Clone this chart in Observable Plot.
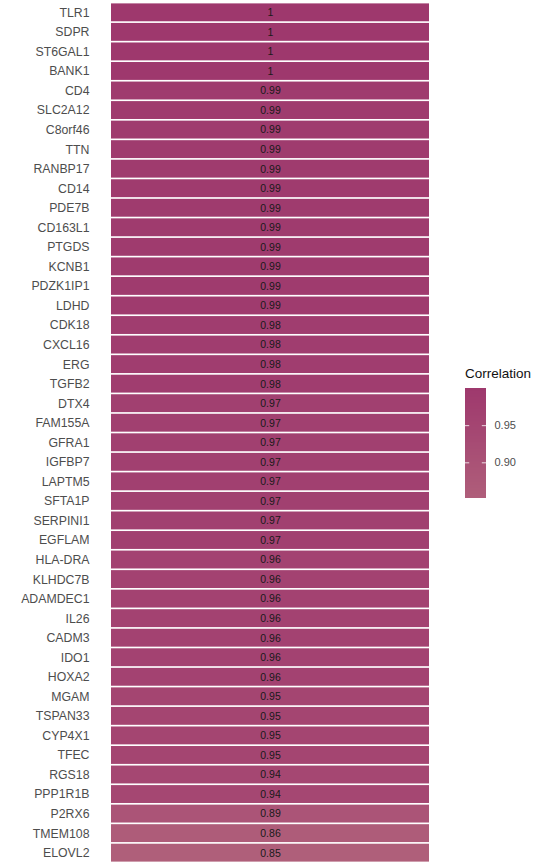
<!DOCTYPE html>
<html>
<head>
<meta charset="utf-8">
<script src="https://cdn.jsdelivr.net/npm/d3@7"></script>
<script src="https://cdn.jsdelivr.net/npm/@observablehq/plot@0.6"></script>
<style>
  html, body { margin: 0; padding: 0; background: #fff; }
  #wrap { position: relative; width: 537px; height: 864px; font-family: "Liberation Sans", Arial, Helvetica, sans-serif; }
  #legend { position: absolute; left: 460px; top: 360px; }
  #ltitle { position: absolute; left: 465px; top: 366px; font-size: 13.5px; color: #111; }
</style>
</head>
<body>
<div id="wrap">
  <div id="chart"></div>
  <div id="ltitle">Correlation</div>
  <div id="legend"></div>
</div>
<script>
const genes = ["TLR1","SDPR","ST6GAL1","BANK1","CD4","SLC2A12","C8orf46","TTN","RANBP17","CD14","PDE7B","CD163L1","PTGDS","KCNB1","PDZK1IP1","LDHD","CDK18","CXCL16","ERG","TGFB2","DTX4","FAM155A","GFRA1","IGFBP7","LAPTM5","SFTA1P","SERPINI1","EGFLAM","HLA-DRA","KLHDC7B","ADAMDEC1","IL26","CADM3","IDO1","HOXA2","MGAM","TSPAN33","CYP4X1","TFEC","RGS18","PPP1R1B","P2RX6","TMEM108","ELOVL2"];
const correlations = [1,1,1,1,0.99,0.99,0.99,0.99,0.99,0.99,0.99,0.99,0.99,0.99,0.99,0.99,0.98,0.98,0.98,0.98,0.97,0.97,0.97,0.97,0.97,0.97,0.97,0.97,0.96,0.96,0.96,0.96,0.96,0.96,0.96,0.95,0.95,0.95,0.95,0.94,0.94,0.89,0.86,0.85];
const legendTicks = [0.90, 0.95];

const table = genes.map((g, i) => ({gene: g, value: correlations[i], col: "Correlation"}));
const colorScale = {type: "linear", domain: [0.852, 1.0], range: ["#af5e7a", "#9e386d"]};
const font = "Liberation Sans, Arial, Helvetica, sans-serif";

const chart = Plot.plot({
  width: 537,
  height: 864,
  marginLeft: 111,
  marginRight: 108,
  marginTop: 3,
  marginBottom: 2,
  style: {fontFamily: font, background: "white"},
  x: {domain: ["Correlation"], axis: null, padding: 0, round: false},
  y: {domain: genes, paddingInner: 0.085, paddingOuter: 0.02, round: false, label: null},
  color: colorScale,
  marks: [
    Plot.cell(table, {x: "col", y: "gene", fill: "value"}),
    Plot.text(table, {x: "col", y: "gene", text: d => String(d.value), fill: "#1a1a1a", fontSize: 10.5}),
    Plot.axisY({tickSize: 0, tickPadding: 22, fontSize: 12.3, color: "#4d4d4d", label: null})
  ]
});
document.getElementById("chart").appendChild(chart);

const ramp = d3.range(0.852, 1.0, 0.002);
const legend = Plot.plot({
  width: 77,
  height: 150,
  marginLeft: 5,
  marginRight: 51,
  marginTop: 28,
  marginBottom: 12,
  style: {fontFamily: font, background: "transparent", overflow: "visible"},
  x: {domain: [0, 1], axis: null},
  y: {domain: [0.852, 1.0], axis: null},
  color: colorScale,
  marks: [
    Plot.rect(ramp, {x1: 0, x2: 1, y1: d => d, y2: d => Math.min(d + 0.0025, 1.0), fill: d => d, shapeRendering: "crispEdges"}),
    Plot.ruleY(legendTicks, {x1: 0, x2: 0.2, stroke: "white", strokeOpacity: 0.8}),
    Plot.ruleY(legendTicks, {x1: 0.8, x2: 1, stroke: "white", strokeOpacity: 0.8}),
    Plot.text(legendTicks, {x: 1, y: d => d, dx: 8, textAnchor: "start", text: d => d.toFixed(2), fill: "#4d4d4d", fontSize: 11})
  ]
});
document.getElementById("legend").appendChild(legend);
</script>
</body>
</html>
